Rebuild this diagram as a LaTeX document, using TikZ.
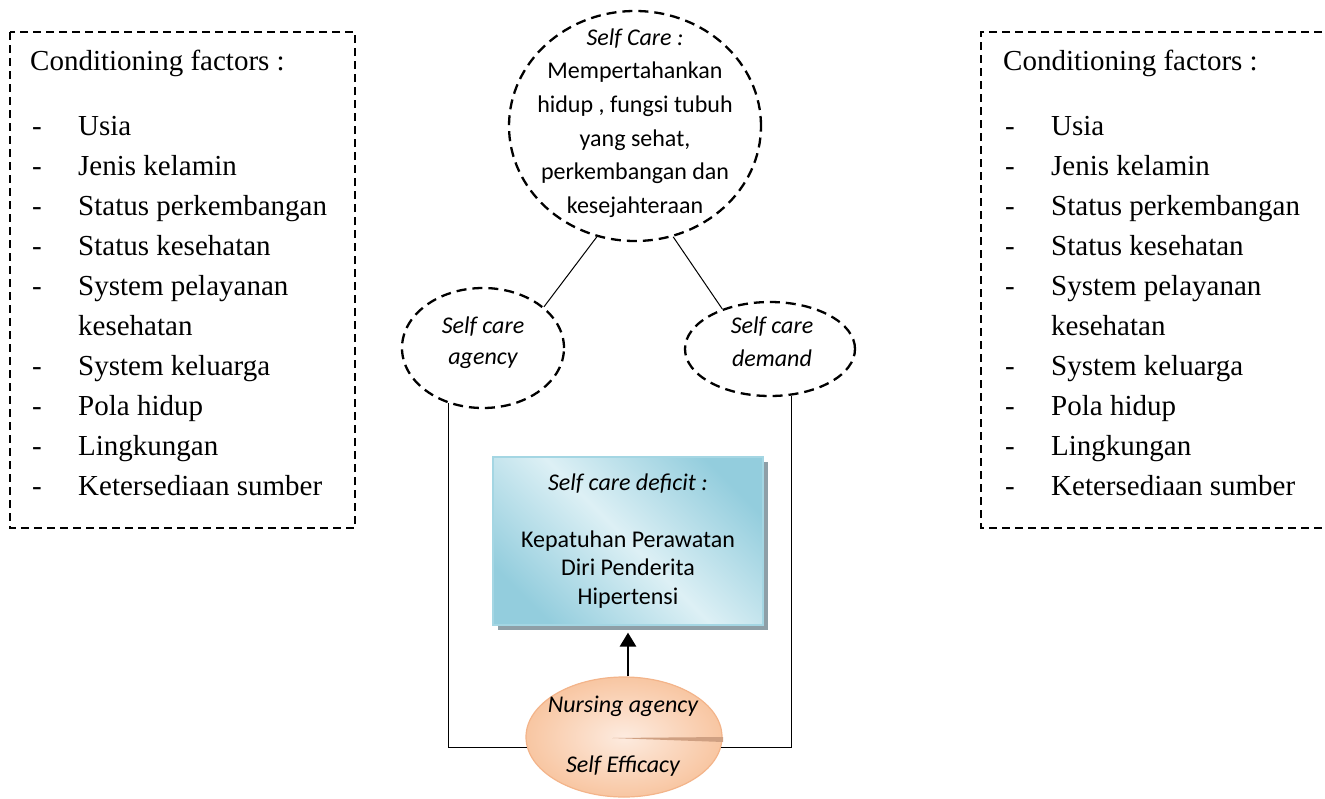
\documentclass[tikz,border=0pt]{standalone}
\usepackage{fontspec}
\setmainfont{Liberation Serif}
\newfontfamily\calfont{Carlito}
\usetikzlibrary{shapes.geometric,arrows.meta}
\definecolor{blueD}{HTML}{93CDDD}
\definecolor{blueL}{HTML}{DDF0F5}
\definecolor{blueB}{HTML}{A4D6E3}
\definecolor{shadowc}{HTML}{8E9FA7}
\definecolor{orgIn}{HTML}{FDEBDF}
\definecolor{orgOut}{HTML}{F8C6A2}
\definecolor{orgB}{HTML}{F3B48A}
\definecolor{streak}{HTML}{CFA082}
\pgfdeclarehorizontalshading{bluediag}{100bp}{color(0bp)=(blueD); color(24bp)=(blueD); color(50bp)=(blueL); color(76bp)=(blueD); color(100bp)=(blueD)}
\tikzset{
  factorbox/.style={line width=1.9pt, dash pattern=on 8pt off 5pt},
  dashell/.style={ellipse, draw, line width=2.3pt, dash pattern=on 10pt off 6pt, inner sep=0pt},
  serif/.style={font=\fontsize{29}{35}\selectfont, inner sep=0pt},
  item/.style={serif, anchor=base west},
  cal/.style={font=\calfont\fontsize{24}{33.6}\selectfont, align=center, inner sep=0pt},
  conn/.style={line width=1pt},
}
\begin{document}
\begin{tikzpicture}[x=1pt,y=-1pt]
\useasboundingbox (0,0) rectangle (1325,798);
% left factor box
\draw[factorbox] (10,32) rectangle (355,528);
\node[item] (lcf) at (30,70) {Conditioning factors :};
\foreach \n/\y/\t in {l1/135/Usia, l2/175/Jenis kelamin, l3/215/Status perkembangan, l4/255/Status kesehatan, l5/295/System pelayanan, l7/375/System keluarga, l8/415/Pola hidup, l9/455/Lingkungan, l10/495/Ketersediaan sumber}{
  \node[item] (d\n) at (32,\y) {-};
  \node[item] (\n) at (78,\y) {\t};
}
\node[item] (l6) at (78,335) {kesehatan};
% right factor box
\draw[factorbox] (1335,32) -- (981,32) -- (981,528) -- (1335,528);
\node[item] (rcf) at (1003,70) {Conditioning factors :};
\foreach \n/\y/\t in {r1/135/Usia, r2/175/Jenis kelamin, r3/215/Status perkembangan, r4/255/Status kesehatan, r5/295/System pelayanan, r7/375/System keluarga, r8/415/Pola hidup, r9/455/Lingkungan, r10/495/Ketersediaan sumber}{
  \node[item] (d\n) at (1005,\y) {-};
  \node[item] (\n) at (1051,\y) {\t};
}
\node[item] (r6) at (1051,335) {kesehatan};
% top ellipse
\node[dashell, minimum width=252pt, minimum height=230pt] (sc) at (635,126) {};
\node[cal] (sct) at (635,123) {\itshape Self Care :\\Mempertahankan\\hidup , fungsi tubuh\\yang sehat,\\perkembangan dan\\kesejahteraan};
% small ellipses
\node[dashell, minimum width=162pt, minimum height=120pt] (ag) at (483,348) {};
\node[cal, font=\calfont\itshape\fontsize{24}{31}\selectfont] (agt) at (483,343) {Self care\\agency};
\node[dashell, minimum width=170pt, minimum height=94pt] (dm) at (770,349) {};
\node[cal, font=\calfont\itshape\fontsize{24}{33}\selectfont] (dmt) at (772,342) {Self care\\demand};
\draw[conn] (sc.251) -- (ag.34.6);
\draw[conn] (sc.289) -- (dm.140);
% deficit box
\fill[shadowc] (498,462) rectangle (768,630);
\node[draw=blueB, line width=1.2pt, shading=bluediag, shading angle=45, minimum width=270pt, minimum height=168pt, inner sep=0pt] (df) at (628,541) {};
\node[cal, font=\calfont\fontsize{24}{28.5}\selectfont] (dft) at (628,541) {\itshape Self care deficit :\\[28.5pt]Kepatuhan Perawatan\\Diri Penderita\\Hipertensi};
% nursing ellipse
\node[ellipse, draw=orgB, line width=1.2pt, inner color=orgIn, outer color=orgOut, minimum width=196pt, minimum height=120pt, inner sep=0pt] (ns) at (624,737) {};
\fill[streak] (612,738) -- (723,737) -- (723,742) -- cycle;
\node[cal, font=\calfont\itshape\fontsize{24}{60}\selectfont] (nst) at (623,736) {Nursing agency\\Self Efficacy};
% connectors to nursing
\draw[conn] (ag.238) |- (ns.186);
\draw[conn] (dm.295) |- (ns.354);
\draw[line width=2.8pt, -{Triangle[length=14pt,width=16pt]}] (df.south |- ns.north) -- ([yshift=-7pt]df.south);
\end{tikzpicture}
\end{document}
